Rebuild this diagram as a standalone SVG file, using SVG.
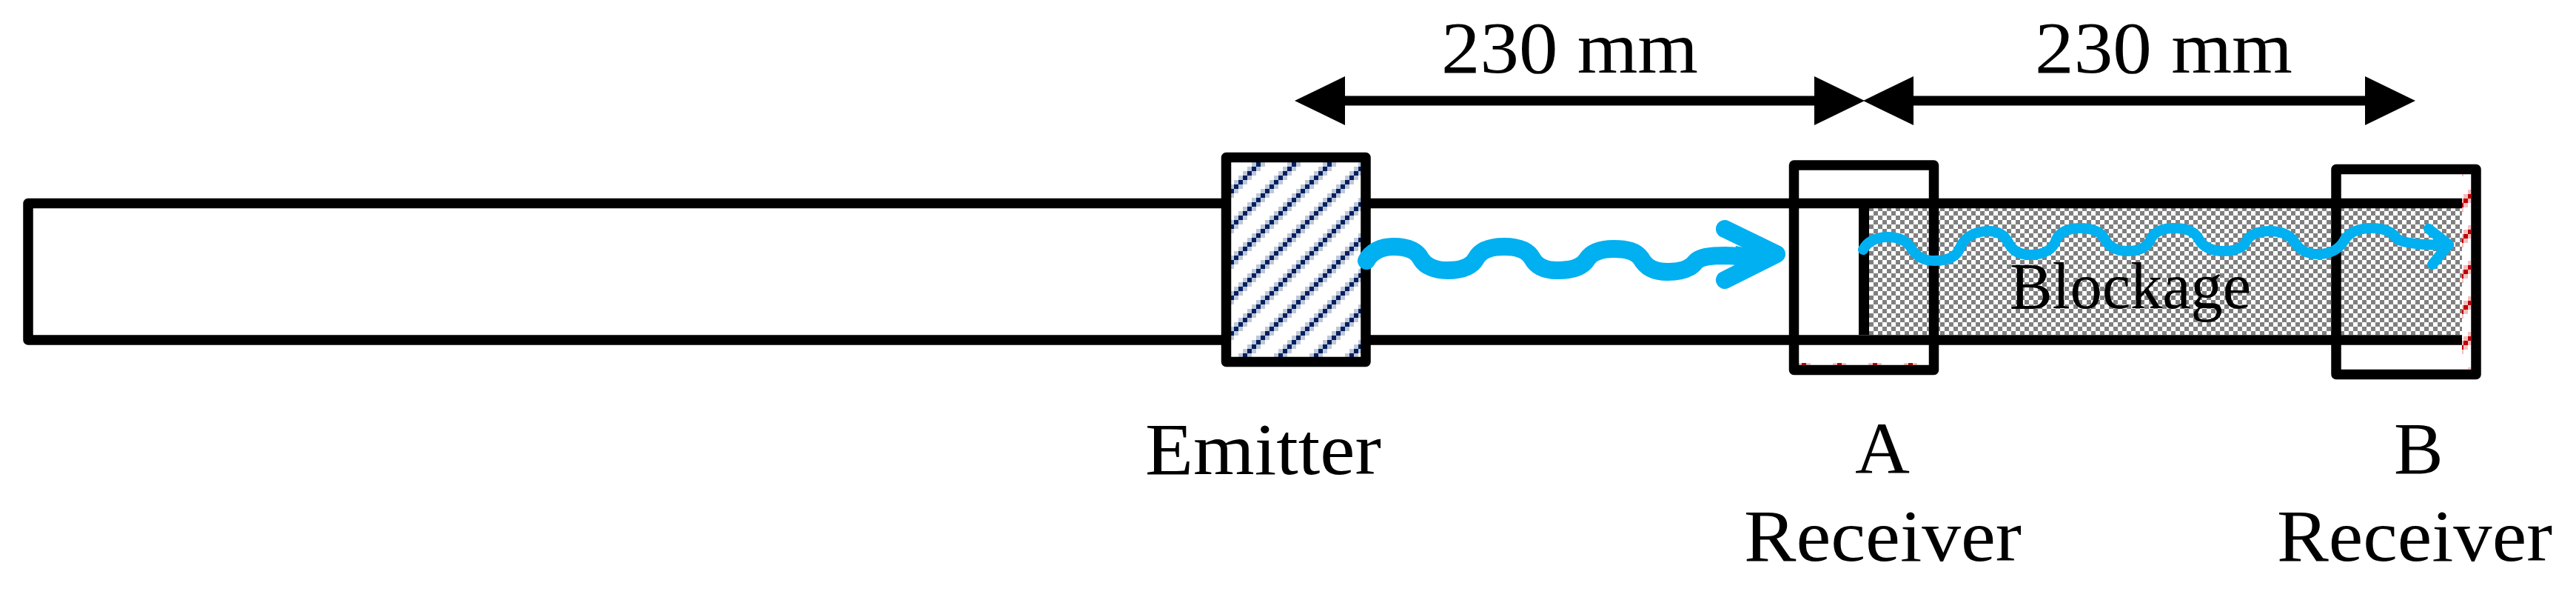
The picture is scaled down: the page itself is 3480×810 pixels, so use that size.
<svg xmlns="http://www.w3.org/2000/svg" width="3480" height="810" viewBox="0 0 3480 810">
<style>
text{font-family:"Liberation Serif","Times New Roman",serif;fill:#000;font-size:100px}
.frame{fill:none;stroke:#000;stroke-width:13.5;stroke-linejoin:round}
.wave{fill:none;stroke:#00b0f0;stroke-linecap:round;stroke-linejoin:round}
.dim{stroke:#000;stroke-width:13;marker-start:url(#headL);marker-end:url(#headR)}
</style>
<defs>
<marker id="headR" markerUnits="userSpaceOnUse" markerWidth="68" markerHeight="66" viewBox="0 0 68 66" refX="0" refY="33" orient="0"><polygon points="0,0 68,33 0,66"/></marker>
<marker id="headL" markerUnits="userSpaceOnUse" markerWidth="68" markerHeight="66" viewBox="0 0 68 66" refX="68" refY="33" orient="0"><polygon points="68,0 0,33 68,66"/></marker>
<pattern id="navyHatch" patternUnits="userSpaceOnUse" width="48" height="48" patternTransform="translate(1655 219)">
<rect width="48" height="48" fill="#fff"/>
<path fill="#bfc7d9" d="M36,0h6v6h-6zM30,6h6v6h-6zM24,12h6v6h-6zM18,18h6v6h-6zM12,24h6v6h-6zM6,30h6v6h-6zM0,36h6v6h-6zM42,42h6v6h-6zM0,0h6v6h-6zM42,6h6v6h-6zM36,12h6v6h-6zM30,18h6v6h-6zM24,24h6v6h-6zM18,30h6v6h-6zM12,36h6v6h-6zM6,42h6v6h-6z"/>
<path fill="#002060" d="M42,0h6v6h-6zM36,6h6v6h-6zM30,12h6v6h-6zM24,18h6v6h-6zM18,24h6v6h-6zM12,30h6v6h-6zM6,36h6v6h-6zM0,42h6v6h-6z"/>
</pattern>
<pattern id="redHatch" patternUnits="userSpaceOnUse" width="48" height="48" patternTransform="translate(2392 490)">
<rect width="48" height="48" fill="#fff"/>
<path fill="#f4bfbf" d="M36,0h6v6h-6zM30,6h6v6h-6zM24,12h6v6h-6zM18,18h6v6h-6zM12,24h6v6h-6zM6,30h6v6h-6zM0,36h6v6h-6zM42,42h6v6h-6zM0,0h6v6h-6zM42,6h6v6h-6zM36,12h6v6h-6zM30,18h6v6h-6zM24,24h6v6h-6zM18,30h6v6h-6zM12,36h6v6h-6zM6,42h6v6h-6z"/>
<path fill="#c00000" d="M42,0h6v6h-6zM36,6h6v6h-6zM30,12h6v6h-6zM24,18h6v6h-6zM18,24h6v6h-6zM12,30h6v6h-6zM6,36h6v6h-6zM0,42h6v6h-6z"/>
</pattern>
<pattern id="checker" patternUnits="userSpaceOnUse" width="12" height="12" patternTransform="translate(2525 279)">
<rect width="12" height="12" fill="#fff"/>
<path fill="#808080" d="M0,0h6v6h-6zM6,6h6v6h-6z"/>
</pattern>
</defs>
<rect width="3480" height="810" fill="#fff"/>
<g id="blockage">
<rect x="2525" y="281" width="801" height="171" fill="url(#checker)"/>
<text x="2715" y="416" style="font-size:88px" textLength="326" lengthAdjust="spacingAndGlyphs">Blockage</text>
</g>
<g id="tube">
<path class="frame" d="M3326,274.5H38V459H3326"/>
<rect x="2511" y="281" width="14" height="171" fill="#000"/>
</g>
<g id="emitter">
<rect x="1656.5" y="212.5" width="188.5" height="276" class="frame" style="fill:url(#navyHatch)"/>
<text x="1547" y="640" textLength="319" lengthAdjust="spacingAndGlyphs">Emitter</text>
</g>
<g id="receiver-a">
<rect x="2430" y="490" width="176" height="3" fill="url(#redHatch)"/>
<rect class="frame" x="2423.5" y="223" width="189" height="276.5"/>
<text x="2506" y="639" textLength="74" lengthAdjust="spacingAndGlyphs">A</text>
<text x="2356" y="757" textLength="375" lengthAdjust="spacingAndGlyphs">Receiver</text>
</g>
<g id="receiver-b">
<rect x="3326" y="235" width="12" height="263" fill="url(#redHatch)"/>
<rect class="frame" x="3156" y="228.5" width="189" height="277"/>
<text x="3234" y="639">B</text>
<text x="3076" y="757" textLength="372" lengthAdjust="spacingAndGlyphs">Receiver</text>
</g>
<g id="connectors">
<line class="dim" x1="1817" y1="136" x2="2451" y2="136"/>
<line class="dim" x1="2585" y1="136" x2="3195" y2="136"/>
<path class="wave" stroke-width="24" d="M1846,352C1852,340 1866,333 1882,333C1902,333 1914,338 1920,350C1926,360 1940,365 1955,365C1975,365 1988,360 1994,349C2000,338 2014,333 2032,333C2052,333 2064,338 2070,349C2076,360 2088,365 2104,365C2124,365 2138,360 2144,350C2150,341 2162,336 2180,336C2198,336 2210,339 2217,349C2224,362 2236,367 2253,367C2272,367 2284,362 2290,354C2296,347 2310,345 2330,345L2355,346"/>
<polygon points="2345,332 2400,343 2342,358" fill="#00b0f0"/>
<path class="wave" stroke-width="24" d="M2330,309L2400,343L2330,378"/>
<path class="wave" stroke-width="14" d="M2517,337C2522,327 2534,320 2550,320C2566,320 2576,325 2582,335C2588,345 2598,352 2613,352C2632,352 2644,346 2648,334C2654,320 2668,312 2687,312C2700,312 2708,318 2713,327C2718,338 2728,344 2743,344C2762,344 2774,336 2778,323C2782,314 2794,308 2809,308C2826,308 2838,313 2843,322C2848,333 2860,339 2874,339C2892,339 2902,332 2906,322C2910,313 2922,308 2937,308C2954,308 2965,313 2970,322C2975,333 2988,339 3003,339C3020,339 3031,334 3035,325C3039,317 3050,312 3066,312C3084,312 3094,318 3100,327C3106,337 3117,343 3131,343C3148,343 3160,336 3166,326C3172,315 3185,308 3203,308C3220,308 3232,313 3238,322C3244,328 3270,331 3308,331"/>
<path class="wave" stroke-width="14" d="M3281,309L3308,330L3286,357"/>
</g>
<g id="dimension-labels">
<text x="1947" y="98" textLength="347" lengthAdjust="spacingAndGlyphs">230 mm</text>
<text x="2749" y="98" textLength="348" lengthAdjust="spacingAndGlyphs">230 mm</text>
</g>
</svg>
